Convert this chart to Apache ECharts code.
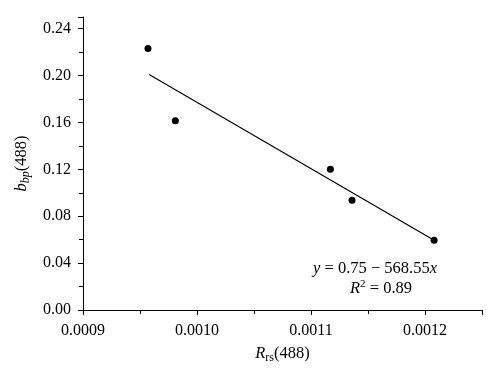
<!DOCTYPE html>
<html><head><meta charset="utf-8">
<script src="https://cdn.jsdelivr.net/npm/echarts@6/dist/echarts.min.js"></script>
<style>html,body{margin:0;padding:0;background:#fff}#c{width:500px;height:376px}</style>
</head><body><div id="c"></div>
<script>
const rrs = [0.000957, 0.000981, 0.001117, 0.001136, 0.001208];
const bbp = [0.2232, 0.1614, 0.1200, 0.0936, 0.0596];
const fitX = [0.000958, 0.001208];
const fitY = [0.2009, 0.0596];
const xTicks = ['0.0009', '0.0010', '0.0011', '0.0012'];
const yTicks = ['0.00', '0.04', '0.08', '0.12', '0.16', '0.20', '0.24'];
const eqLine1 = ['y', ' = 0.75 − 568.55', 'x'];
const eqLine2 = ['R', '2', ' = 0.89'];

const FONT = 'Liberation Serif';
const chart = echarts.init(document.getElementById('c'));
const richBase = {
  i: {fontStyle: 'italic', fontFamily: FONT, fontSize: 16.5, lineHeight: 19, color: '#000'},
  n: {fontFamily: FONT, fontSize: 16.5, lineHeight: 19, color: '#000'},
  sub: {fontFamily: FONT, fontSize: 12, lineHeight: 12, padding: [8, 0, 0, 0], verticalAlign: 'top', color: '#000'},
  subi: {fontFamily: FONT, fontStyle: 'italic', fontSize: 12, lineHeight: 12, padding: [8, 0, 0, 0], verticalAlign: 'top', color: '#000'},
  sup: {fontFamily: FONT, fontSize: 11, lineHeight: 11, padding: [0, 0, 8, 0], verticalAlign: 'top', color: '#000'}
};
chart.setOption({
  animation: false,
  grid: {left: 83, right: 18, top: 17, bottom: 66},
  xAxis: {
    type: 'value', min: 0.0009, max: 0.00125, interval: 0.0001,
    name: '{i|R}{sub|rs}{n|(488)}', nameLocation: 'middle', nameGap: 32,
    nameTextStyle: {rich: richBase},
    axisLine: {lineStyle: {color: '#000', width: 1}},
    axisTick: {length: 5, lineStyle: {color: '#000'}},
    minorTick: {show: true, splitNumber: 2, length: 4, lineStyle: {color: '#000'}},
    splitLine: {show: false},
    axisLabel: {
      showMaxLabel: false, color: '#000', fontFamily: FONT, fontSize: 16, margin: 13,
      formatter: v => { const i = Math.round((v - 0.0009) / 0.0001); return Math.abs(v - (0.0009 + i * 0.0001)) < 1e-9 && xTicks[i] ? xTicks[i] : ''; }
    }
  },
  yAxis: {
    type: 'value', min: 0, max: 0.25, interval: 0.04,
    name: '{i|b}{subi|bp}{n|(488)}', nameLocation: 'middle', nameGap: 48,
    nameTextStyle: {rich: richBase},
    axisLine: {show: true, lineStyle: {color: '#000', width: 1}},
    axisTick: {show: true, length: 5, lineStyle: {color: '#000'}},
    minorTick: {show: true, splitNumber: 2, length: 4, lineStyle: {color: '#000'}},
    splitLine: {show: false},
    axisLabel: {
      showMaxLabel: false, color: '#000', fontFamily: FONT, fontSize: 16, margin: 12,
      formatter: v => { const i = Math.round(v / 0.04); return Math.abs(v - i * 0.04) < 1e-9 && yTicks[i] ? yTicks[i] : ''; }
    }
  },
  graphic: [
    {type: 'text', left: 313, top: 260, style: {
      text: '{i|' + eqLine1[0] + '}{n|' + eqLine1[1] + '}{i|' + eqLine1[2] + '}', rich: richBase}},
    {type: 'text', left: 350, top: 279, style: {
      text: '{i|' + eqLine2[0] + '}{sup|' + eqLine2[1] + '}{n|' + eqLine2[2] + '}', rich: richBase}}
  ],
  series: [
    {type: 'line', data: fitX.map((x, i) => [x, fitY[i]]), showSymbol: false, symbol: 'none',
     lineStyle: {color: '#000', width: 1.2}, z: 2},
    {type: 'scatter', data: rrs.map((x, i) => [x, bbp[i]]), symbolSize: 7,
     itemStyle: {color: '#000', opacity: 1}, z: 3}
  ]
});
</script></body></html>
